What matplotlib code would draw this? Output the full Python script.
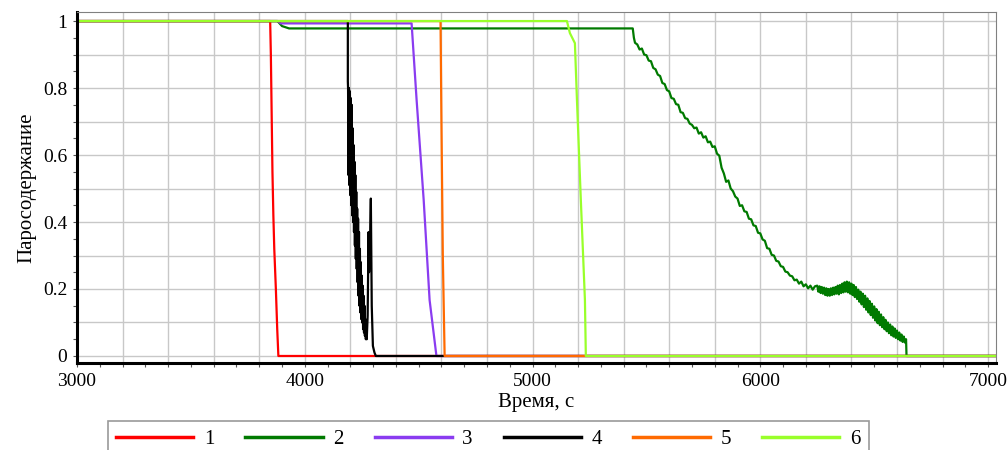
import matplotlib
matplotlib.use("Agg")
import matplotlib.pyplot as plt
from matplotlib.ticker import MultipleLocator, FuncFormatter

plt.rcParams['font.family'] = ['Liberation Serif', 'DejaVu Serif']

# series 1 (red)
t1 = [3000, 3848, 3851, 3853, 3856, 3858, 3862, 3866, 3873, 3879, 3884, 7040]
v1 = [1.0, 1.0, 0.9, 0.8, 0.65, 0.55, 0.42, 0.32, 0.2, 0.08, 0.0, 0.0]

# series 2 (green) - plateau, then noisy decline
t2 = [3000, 3880, 3900, 3931,
      5440, 5445, 5450, 5460, 5470, 5480, 5490, 5500, 5510, 5520, 5530,
      5540, 5550, 5560, 5570, 5580, 5590, 5600, 5610, 5620, 5630, 5640,
      5650, 5660, 5670, 5680, 5690, 5700, 5710, 5720, 5730, 5740, 5750,
      5760, 5770, 5780, 5790, 5800, 5810, 5820, 5830, 5840, 5850, 5860,
      5870, 5880, 5890, 5900, 5910, 5920, 5930, 5940, 5950, 5960, 5970,
      5980, 5990, 6000, 6010, 6020, 6030, 6040, 6050, 6060, 6070, 6080,
      6090, 6100, 6110, 6120, 6130, 6140, 6150, 6160, 6170, 6180, 6190,
      6200, 6210, 6220, 6230, 6240,
      6250, 6255, 6260, 6265, 6270, 6275, 6280, 6285, 6290, 6295, 6300,
      6305, 6310, 6315, 6320, 6325, 6330, 6335, 6340, 6345, 6350, 6355,
      6360, 6365, 6370, 6375, 6380, 6385, 6390, 6395, 6400, 6405, 6410,
      6415, 6420, 6425, 6430, 6435, 6440, 6445, 6450, 6455, 6460, 6465,
      6470, 6475, 6480, 6485, 6490, 6495, 6500, 6505, 6510, 6515, 6520,
      6525, 6530, 6535, 6540, 6545, 6550, 6555, 6560, 6565, 6570, 6575,
      6580, 6585, 6590, 6595, 6600, 6605, 6610, 6615, 6620, 6625, 6630,
      6635, 6640, 6642, 7040]
v2 = [1.0, 1.0, 0.985, 0.978,
      0.978, 0.950, 0.935, 0.930, 0.915, 0.918, 0.900, 0.898, 0.882, 0.880, 0.860,
      0.856, 0.840, 0.836, 0.815, 0.812, 0.794, 0.790, 0.770, 0.768, 0.752, 0.750,
      0.728, 0.726, 0.710, 0.708, 0.694, 0.690, 0.680, 0.682, 0.664, 0.668, 0.652,
      0.656, 0.638, 0.640, 0.624, 0.626, 0.604, 0.598, 0.562, 0.545, 0.520, 0.524,
      0.500, 0.492, 0.476, 0.470, 0.448, 0.450, 0.432, 0.430, 0.410, 0.408, 0.390,
      0.388, 0.368, 0.366, 0.348, 0.344, 0.322, 0.320, 0.302, 0.300, 0.284, 0.282,
      0.268, 0.266, 0.252, 0.250, 0.240, 0.238, 0.226, 0.228, 0.216, 0.222, 0.208,
      0.214, 0.202, 0.210, 0.198, 0.208,
      0.210, 0.192, 0.208, 0.188, 0.206, 0.186, 0.204, 0.182, 0.202, 0.180, 0.200,
      0.180, 0.202, 0.182, 0.204, 0.184, 0.206, 0.186, 0.210, 0.184, 0.212, 0.188,
      0.216, 0.190, 0.220, 0.192, 0.222, 0.190, 0.220, 0.186, 0.216, 0.182, 0.212,
      0.176, 0.206, 0.170, 0.198, 0.162, 0.192, 0.154, 0.186, 0.146, 0.180, 0.138,
      0.172, 0.130, 0.164, 0.122, 0.156, 0.114, 0.148, 0.106, 0.140, 0.098, 0.132,
      0.092, 0.124, 0.086, 0.116, 0.080, 0.108, 0.074, 0.100, 0.068, 0.094, 0.062,
      0.088, 0.058, 0.082, 0.054, 0.076, 0.050, 0.070, 0.046, 0.064, 0.042, 0.058,
      0.040, 0.050, 0.0, 0.0]

# series 3 (purple)
t3 = [3000, 3880, 3895, 4469, 4491, 4522, 4548, 4578, 7040]
v3 = [1.0, 1.0, 0.993, 0.993, 0.764, 0.466, 0.167, 0.0, 0.0]

# series 4 (black) - oscillating drop with a late spike
t4 = [3000, 4189, 4189,
      4190, 4192, 4194, 4196, 4198, 4200, 4202, 4204, 4206, 4208, 4210,
      4212, 4214, 4216, 4218, 4220, 4222, 4224, 4226, 4228, 4230, 4232,
      4234, 4236, 4238, 4240, 4242, 4244, 4246, 4248, 4250, 4252, 4254,
      4256, 4258, 4260, 4262, 4264, 4266, 4268, 4270, 4272,
      4276, 4280, 4282, 4286, 4290, 4294, 4299, 4306, 4312, 7040]
v4 = [1.0, 1.0, 0.82,
      0.80, 0.54, 0.80, 0.51, 0.79, 0.48, 0.77, 0.45, 0.75, 0.42, 0.68,
      0.40, 0.63, 0.37, 0.58, 0.33, 0.54, 0.29, 0.49, 0.26, 0.44, 0.22,
      0.41, 0.18, 0.37, 0.15, 0.32, 0.13, 0.28, 0.11, 0.24, 0.10, 0.21,
      0.08, 0.18, 0.07, 0.15, 0.06, 0.11, 0.05, 0.08, 0.05,
      0.12, 0.37, 0.25, 0.33, 0.47, 0.15, 0.03, 0.01, 0.0, 0.0]

# series 5 (orange)
t5 = [3000, 4596, 4600, 4606, 4614, 7040]
v5 = [1.0, 1.0, 0.7, 0.3, 0.0, 0.0]

# series 6 (light green)
t6 = [3000, 5151, 5164, 5186, 5195, 5212, 5230, 5234, 7040]
v6 = [1.0, 1.0, 0.964, 0.934, 0.764, 0.466, 0.167, 0.0, 0.0]

series = [(t1, v1, '#ff0000', '1'),
          (t2, v2, '#007a00', '2'),
          (t3, v3, '#8a3cf0', '3'),
          (t4, v4, '#000000', '4'),
          (t5, v5, '#ff6a00', '5'),
          (t6, v6, '#99ff2a', '6')]

fig = plt.figure(figsize=(10.07, 4.5), dpi=100)
ax = fig.add_axes([0.0765, 0.1933, 0.9126, 0.78])

for t, v, c, lab in series:
    ax.plot(t, v, color=c, lw=1.6, label=lab)

ax.set_xlim(3000, 7035)
ax.set_ylim(-0.021, 1.027)

ax.xaxis.set_major_locator(MultipleLocator(200))
ax.xaxis.set_minor_locator(MultipleLocator(100))
ax.xaxis.set_major_formatter(FuncFormatter(
    lambda x, p: '%d' % round(x) if round(x) % 1000 == 0 else ''))
ax.yaxis.set_major_locator(MultipleLocator(0.1))
ax.yaxis.set_minor_locator(MultipleLocator(0.05))
ax.yaxis.set_major_formatter(FuncFormatter(
    lambda y, p: ('%g' % round(y, 1)) if round(y * 10) % 2 == 0 else ''))

ax.grid(True, which='major', color='#c8c8c8', lw=1.0)
ax.set_axisbelow(True)
ax.tick_params(which='both', direction='out', length=3, width=0.8,
               color='#555555', labelsize=14, pad=4)

ax.spines['left'].set_linewidth(2.2)
ax.spines['bottom'].set_linewidth(2.2)
ax.spines['top'].set_color('#808080')
ax.spines['right'].set_color('#808080')

ax.set_xlabel('Время, с', fontsize=15, labelpad=2)
ax.set_ylabel('Паросодержание', fontsize=15, labelpad=5)

leg = fig.legend(loc='upper left', bbox_to_anchor=(108 / 1007, 1 - 421 / 450),
                 ncol=6, fontsize=15, frameon=True, fancybox=False,
                 handlelength=3.7, handletextpad=0.5, columnspacing=1.5,
                 borderpad=0.4, borderaxespad=0)
leg.get_frame().set_edgecolor('#808080')
leg.get_frame().set_linewidth(1.2)
for line in leg.get_lines():
    line.set_linewidth(2.5)

fig.savefig('out.png', dpi=100)
